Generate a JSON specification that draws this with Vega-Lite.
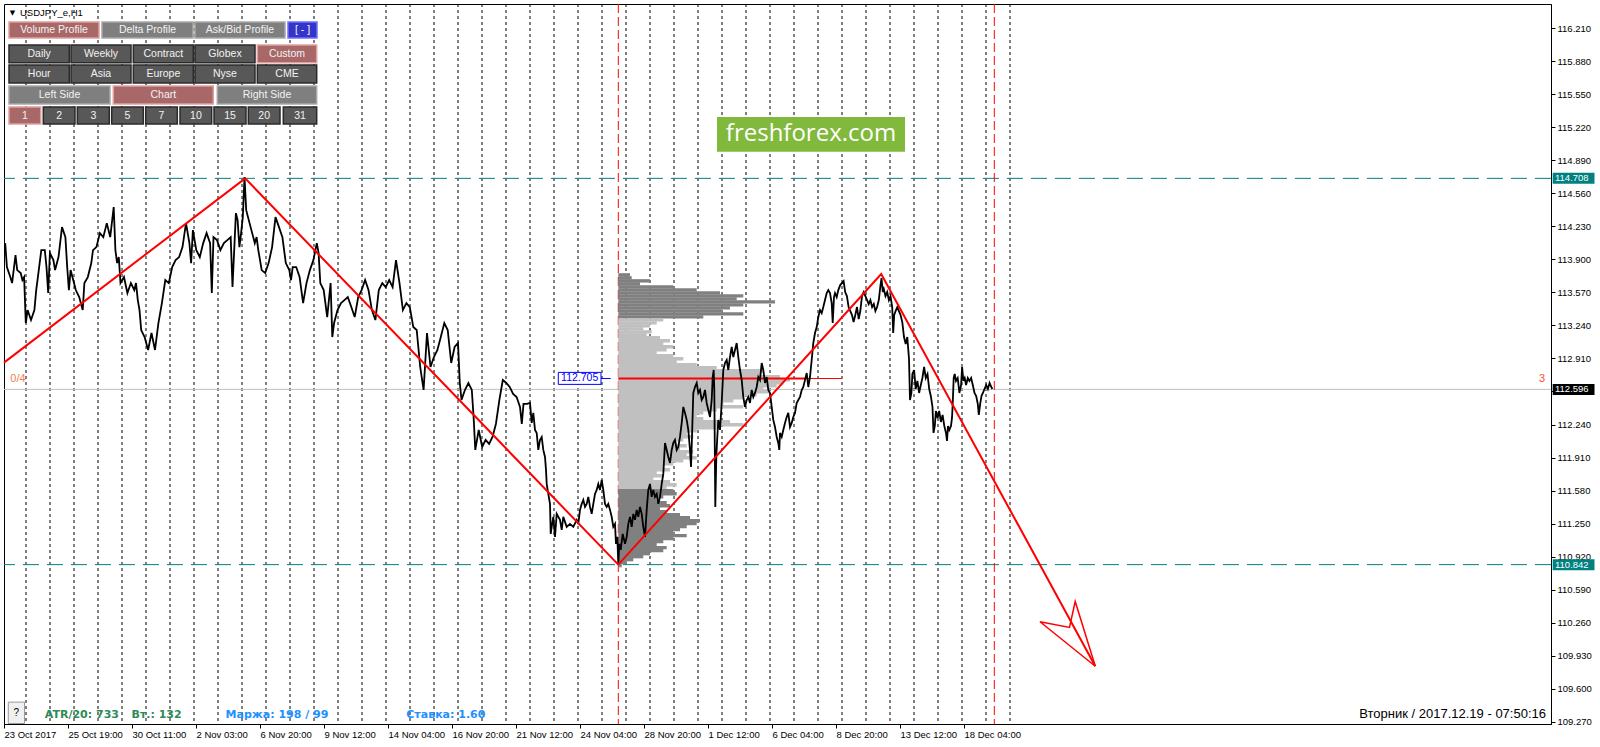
{
"$schema":"https://vega.github.io/schema/vega-lite/v6.json",
"width":1547,"height":720,
"autosize":{"type":"none"},
"padding":{"left":4,"top":4,"right":49,"bottom":23},
"background":"#ffffff",
"config":{"view":{"stroke":"#000000","strokeWidth":1},"axis":{"grid":false,"labelFont":"Liberation Sans"},"text":{"font":"Liberation Sans"}},
"datasets":{
"seps":[{"t":22},{"t":46},{"t":70},{"t":94},{"t":118},{"t":142},{"t":166},{"t":190},{"t":214},{"t":238},{"t":262},{"t":286},{"t":310},{"t":334},{"t":358},{"t":382},{"t":406},{"t":430},{"t":454},{"t":478},{"t":502},{"t":526},{"t":550},{"t":574},{"t":598},{"t":622},{"t":646},{"t":670},{"t":694},{"t":718},{"t":742},{"t":766},{"t":790},{"t":814},{"t":838},{"t":862},{"t":886},{"t":910},{"t":934},{"t":958},{"t":982},{"t":1006}],
"price":[{"t":1.2,"p":114.06},{"t":2.9,"p":113.82},{"t":6.3,"p":113.72},{"t":8.1,"p":113.66},{"t":11.5,"p":113.94},{"t":13.2,"p":113.79},{"t":16.7,"p":113.76},{"t":18.4,"p":113.69},{"t":20.1,"p":113.72},{"t":21.8,"p":113.26},{"t":23.6,"p":113.39},{"t":27.0,"p":113.29},{"t":30.4,"p":113.39},{"t":32.2,"p":113.59},{"t":33.9,"p":113.72},{"t":37.3,"p":113.99},{"t":40.8,"p":113.99},{"t":42.5,"p":113.82},{"t":44.2,"p":113.56},{"t":45.9,"p":113.96},{"t":49.4,"p":113.89},{"t":51.1,"p":113.79},{"t":54.5,"p":113.92},{"t":58.0,"p":114.22},{"t":61.4,"p":114.12},{"t":63.2,"p":113.82},{"t":64.9,"p":113.59},{"t":66.6,"p":113.79},{"t":70.0,"p":113.66},{"t":71.8,"p":113.59},{"t":75.2,"p":113.52},{"t":78.7,"p":113.39},{"t":80.4,"p":113.66},{"t":83.8,"p":113.72},{"t":87.3,"p":113.86},{"t":89.0,"p":113.99},{"t":92.4,"p":114.02},{"t":95.9,"p":114.16},{"t":99.3,"p":114.12},{"t":102.8,"p":114.26},{"t":106.2,"p":114.12},{"t":109.7,"p":114.42},{"t":111.4,"p":113.99},{"t":113.1,"p":113.86},{"t":114.8,"p":113.92},{"t":116.5,"p":113.66},{"t":120.0,"p":113.72},{"t":123.4,"p":113.56},{"t":126.9,"p":113.66},{"t":130.3,"p":113.59},{"t":132.0,"p":113.66},{"t":133.8,"p":113.49},{"t":135.5,"p":113.39},{"t":137.2,"p":113.19},{"t":140.6,"p":113.12},{"t":144.1,"p":112.99},{"t":147.5,"p":113.16},{"t":151.0,"p":112.99},{"t":154.4,"p":113.26},{"t":157.9,"p":113.46},{"t":161.3,"p":113.69},{"t":164.8,"p":113.66},{"t":168.2,"p":113.82},{"t":171.6,"p":113.89},{"t":175.1,"p":113.92},{"t":178.5,"p":114.02},{"t":182.0,"p":114.26},{"t":185.4,"p":114.06},{"t":187.1,"p":113.86},{"t":188.9,"p":114.19},{"t":192.3,"p":113.99},{"t":195.8,"p":113.92},{"t":199.2,"p":114.06},{"t":202.6,"p":114.16},{"t":206.1,"p":114.06},{"t":207.8,"p":113.56},{"t":209.5,"p":114.12},{"t":213.0,"p":114.09},{"t":216.4,"p":113.99},{"t":219.9,"p":114.06},{"t":223.3,"p":114.09},{"t":226.7,"p":114.12},{"t":228.5,"p":113.62},{"t":230.2,"p":113.99},{"t":231.9,"p":114.36},{"t":233.6,"p":114.29},{"t":235.4,"p":114.02},{"t":237.1,"p":114.16},{"t":238.8,"p":114.32},{"t":240.5,"p":114.72},{"t":242.2,"p":114.39},{"t":244.0,"p":114.32},{"t":247.4,"p":114.19},{"t":250.8,"p":114.06},{"t":252.6,"p":114.12},{"t":254.3,"p":113.99},{"t":257.7,"p":113.79},{"t":261.2,"p":113.76},{"t":264.6,"p":113.86},{"t":268.1,"p":114.02},{"t":271.5,"p":114.32},{"t":275.0,"p":114.22},{"t":278.4,"p":114.12},{"t":281.8,"p":113.86},{"t":285.3,"p":113.79},{"t":287.0,"p":113.69},{"t":288.7,"p":113.82},{"t":292.2,"p":113.82},{"t":295.6,"p":113.72},{"t":299.1,"p":113.46},{"t":302.5,"p":113.66},{"t":305.9,"p":113.79},{"t":309.4,"p":113.89},{"t":312.8,"p":114.06},{"t":314.6,"p":113.96},{"t":316.3,"p":113.66},{"t":319.7,"p":113.59},{"t":323.2,"p":113.32},{"t":326.6,"p":113.66},{"t":328.3,"p":113.12},{"t":330.1,"p":113.26},{"t":333.5,"p":113.39},{"t":337.0,"p":113.46},{"t":340.4,"p":113.49},{"t":343.8,"p":113.52},{"t":347.3,"p":113.42},{"t":350.7,"p":113.32},{"t":354.2,"p":113.52},{"t":357.6,"p":113.59},{"t":361.1,"p":113.69},{"t":364.5,"p":113.59},{"t":367.9,"p":113.39},{"t":371.4,"p":113.29},{"t":374.8,"p":113.59},{"t":378.3,"p":113.66},{"t":381.7,"p":113.62},{"t":385.2,"p":113.69},{"t":388.6,"p":113.62},{"t":392.0,"p":113.89},{"t":395.5,"p":113.66},{"t":398.9,"p":113.39},{"t":402.4,"p":113.46},{"t":405.8,"p":113.42},{"t":409.3,"p":113.22},{"t":412.7,"p":113.19},{"t":416.2,"p":112.82},{"t":419.6,"p":112.59},{"t":423.0,"p":113.16},{"t":426.5,"p":112.82},{"t":429.9,"p":112.92},{"t":433.4,"p":112.99},{"t":436.8,"p":113.12},{"t":440.3,"p":113.26},{"t":443.7,"p":113.19},{"t":447.2,"p":112.86},{"t":450.6,"p":113.02},{"t":454.0,"p":113.06},{"t":455.8,"p":112.66},{"t":457.5,"p":112.49},{"t":460.9,"p":112.59},{"t":464.4,"p":112.66},{"t":467.8,"p":112.59},{"t":469.6,"p":112.32},{"t":471.3,"p":111.99},{"t":474.7,"p":112.19},{"t":478.2,"p":112.02},{"t":481.6,"p":112.09},{"t":485.1,"p":112.05},{"t":488.5,"p":112.12},{"t":491.9,"p":112.25},{"t":495.4,"p":112.49},{"t":498.8,"p":112.69},{"t":502.3,"p":112.66},{"t":505.7,"p":112.62},{"t":509.1,"p":112.55},{"t":512.6,"p":112.52},{"t":516.0,"p":112.42},{"t":517.8,"p":112.25},{"t":519.5,"p":112.45},{"t":522.9,"p":112.45},
{"t":526,"p":112.46},{"t":527.7,"p":112.26},{"t":529.3,"p":112.36},{"t":531,"p":112.19},{"t":532.7,"p":112.16},{"t":534.3,"p":111.99},{"t":536,"p":112.09},{"t":537.7,"p":112.12},{"t":539.3,"p":111.99},{"t":541,"p":111.92},{"t":542,"p":111.79},{"t":542.7,"p":111.65},{"t":544.3,"p":111.55},{"t":546,"p":111.45},{"t":546.7,"p":111.15},{"t":547.7,"p":111.22},{"t":549.3,"p":111.32},{"t":551,"p":111.12},{"t":552.7,"p":111.35},{"t":556,"p":111.29},{"t":557.7,"p":111.19},{"t":559.3,"p":111.32},{"t":562.7,"p":111.22},{"t":566,"p":111.25},{"t":569.3,"p":111.22},{"t":572.7,"p":111.29},{"t":574.3,"p":111.25},{"t":576,"p":111.39},{"t":577.7,"p":111.45},{"t":579.3,"p":111.49},{"t":581,"p":111.42},{"t":582.7,"p":111.45},{"t":584.3,"p":111.52},{"t":586,"p":111.42},{"t":587.7,"p":111.35},{"t":589.3,"p":111.45},{"t":591,"p":111.55},{"t":592.7,"p":111.59},{"t":594.3,"p":111.65},{"t":596,"p":111.59},{"t":597.7,"p":111.69},{"t":599.3,"p":111.59},{"t":601,"p":111.45},{"t":602.7,"p":111.42},{"t":604.3,"p":111.45},{"t":606,"p":111.39},{"t":607.7,"p":111.32},{"t":609.3,"p":111.22},{"t":611,"p":111.25},{"t":612,"p":111.05},{"t":613.3,"p":111.12},{"t":614.3,"p":110.85},{"t":615.3,"p":111.05},{"t":616.7,"p":110.99},{"t":618.7,"p":111.15},{"t":621,"p":111.05},{"t":622.7,"p":111.12},{"t":624.3,"p":111.25},{"t":626,"p":111.32},{"t":627.7,"p":111.22},{"t":629.3,"p":111.35},{"t":631,"p":111.29},{"t":632.7,"p":111.39},{"t":634.3,"p":111.32},{"t":636,"p":111.42},{"t":637.7,"p":111.35},{"t":639.3,"p":111.22},{"t":641,"p":111.12},{"t":642.7,"p":111.39},{"t":644.3,"p":111.59},{"t":646,"p":111.65},{"t":647.7,"p":111.52},{"t":649.3,"p":111.59},{"t":651,"p":111.52},{"t":652.7,"p":111.55},{"t":654.3,"p":111.45},{"t":656,"p":111.52},{"t":657.7,"p":111.65},{"t":659.3,"p":111.75},{"t":661,"p":112.06},{"t":662.7,"p":111.99},{"t":664.3,"p":111.92},{"t":666,"p":111.86},{"t":667.7,"p":111.99},{"t":669.3,"p":112.06},{"t":671,"p":112.09},{"t":672.7,"p":111.99},{"t":674.3,"p":112.02},{"t":676,"p":112.12},{"t":677.7,"p":112.26},{"t":679.3,"p":112.42},{"t":681,"p":112.36},{"t":682.7,"p":112.29},{"t":684.3,"p":112.19},{"t":686,"p":111.99},{"t":687,"p":111.82},{"t":688,"p":112.12},{"t":689.3,"p":112.56},{"t":691,"p":112.62},{"t":692.7,"p":112.66},{"t":694.3,"p":112.56},{"t":696,"p":112.59},{"t":697.7,"p":112.49},{"t":699.3,"p":112.52},{"t":701,"p":112.59},{"t":702.7,"p":112.46},{"t":704.3,"p":112.39},{"t":706,"p":112.32},{"t":707.7,"p":112.49},{"t":708.7,"p":112.72},{"t":709.7,"p":112.79},{"t":710.3,"p":112.59},{"t":711.3,"p":111.42},{"t":712.3,"p":111.92},{"t":713.3,"p":112.12},{"t":714.3,"p":112.29},{"t":716,"p":112.19},{"t":717.7,"p":112.46},{"t":719.3,"p":112.79},{"t":721,"p":112.86},{"t":722.7,"p":112.89},{"t":724.3,"p":112.79},{"t":726,"p":112.92},{"t":727.7,"p":113.02},{"t":729.3,"p":112.92},{"t":731,"p":112.99},{"t":732.7,"p":113.06},{"t":734.3,"p":112.92},{"t":736,"p":112.79},{"t":737.7,"p":112.69},{"t":739.3,"p":112.52},{"t":741,"p":112.42},{"t":742.7,"p":112.49},{"t":744.3,"p":112.52},{"t":746,"p":112.46},{"t":747.7,"p":112.59},{"t":749.3,"p":112.52},{"t":751,"p":112.56},{"t":752.7,"p":112.62},{"t":754.3,"p":112.72},{"t":756,"p":112.69},{"t":757.7,"p":112.86},{"t":759.3,"p":112.79},{"t":761,"p":112.66},{"t":762.7,"p":112.72},{"t":764.3,"p":112.59},{"t":766,"p":112.56},{"t":767.7,"p":112.42},{"t":769.3,"p":112.29},{"t":771,"p":112.22},{"t":772.7,"p":112.12},{"t":774.3,"p":112.06},{"t":775.3,"p":111.99},{"t":776,"p":112.16},{"t":777.7,"p":112.12},{"t":779.3,"p":112.19},{"t":781,"p":112.26},{"t":782.7,"p":112.32},{"t":784.3,"p":112.36},{"t":786,"p":112.22},{"t":787.7,"p":112.26},{"t":789.3,"p":112.32},{"t":791,"p":112.36},{"t":792.7,"p":112.46},{"t":794.3,"p":112.49},{"t":796,"p":112.52},{"t":797.7,"p":112.59},{"t":799.3,"p":112.62},{"t":801,"p":112.69},{"t":802.7,"p":112.76},{"t":804.3,"p":112.62},{"t":806,"p":112.72},{"t":807.7,"p":112.89},{"t":809.3,"p":113.06},{"t":811,"p":113.16},{"t":812.7,"p":113.22},{"t":814.3,"p":113.32},{"t":816,"p":113.39},{"t":817.7,"p":113.36},{"t":819.3,"p":113.42},{"t":821,"p":113.49},{"t":822.7,"p":113.56},{"t":824.3,"p":113.59},{"t":826,"p":113.56},{"t":827.7,"p":113.46},{"t":828.7,"p":113.26},{"t":830,"p":113.52},{"t":831,"p":113.56},{"t":832.7,"p":113.52},{"t":834.3,"p":113.59},
{"t":836.2,"p":113.64},{"t":839.6,"p":113.68},{"t":841.2,"p":113.57},{"t":842.9,"p":113.53},{"t":844.6,"p":113.42},{"t":846.3,"p":113.38},{"t":848,"p":113.34},{"t":849.6,"p":113.27},{"t":851.3,"p":113.34},{"t":853,"p":113.42},{"t":854.7,"p":113.3},{"t":856.3,"p":113.38},{"t":858,"p":113.53},{"t":859.7,"p":113.57},{"t":861.4,"p":113.53},{"t":863.1,"p":113.49},{"t":864.7,"p":113.45},{"t":866.4,"p":113.49},{"t":868.1,"p":113.42},{"t":869.8,"p":113.45},{"t":871.4,"p":113.38},{"t":873.1,"p":113.42},{"t":874.8,"p":113.49},{"t":876.5,"p":113.64},{"t":877.5,"p":113.71},{"t":878.8,"p":113.57},{"t":879.8,"p":113.6},{"t":881.5,"p":113.53},{"t":883.2,"p":113.57},{"t":884.9,"p":113.49},{"t":886.5,"p":113.53},{"t":888.2,"p":113.42},{"t":889.2,"p":113.16},{"t":890.2,"p":113.34},{"t":891.6,"p":113.38},{"t":893.3,"p":113.42},{"t":894.9,"p":113.38},{"t":896.6,"p":113.34},{"t":898.3,"p":113.27},{"t":900,"p":113.12},{"t":901.7,"p":113.05},{"t":903.3,"p":113.12},{"t":905,"p":112.9},{"t":906,"p":112.49},{"t":907.4,"p":112.56},{"t":908.4,"p":112.75},{"t":910.1,"p":112.79},{"t":911.7,"p":112.6},{"t":913.4,"p":112.68},{"t":915.1,"p":112.56},{"t":916.8,"p":112.64},{"t":918.4,"p":112.71},{"t":920.1,"p":112.82},{"t":921.8,"p":112.71},{"t":923.5,"p":112.75},{"t":925.2,"p":112.6},{"t":926.8,"p":112.53},{"t":928.5,"p":112.42},{"t":929.5,"p":112.16},{"t":930.8,"p":112.23},{"t":931.9,"p":112.38},{"t":933.6,"p":112.31},{"t":935.2,"p":112.38},{"t":936.9,"p":112.27},{"t":938.6,"p":112.34},{"t":940.3,"p":112.23},{"t":942,"p":112.16},{"t":943,"p":112.08},{"t":944,"p":112.23},{"t":945.3,"p":112.19},{"t":947,"p":112.23},{"t":948,"p":112.31},{"t":948.7,"p":112.45},{"t":949.7,"p":112.71},{"t":950.7,"p":112.75},{"t":952,"p":112.68},{"t":953.7,"p":112.71},{"t":955.4,"p":112.56},{"t":957.1,"p":112.64},{"t":958.1,"p":112.82},{"t":959.4,"p":112.68},{"t":960.7,"p":112.71},{"t":962.1,"p":112.64},{"t":963.8,"p":112.71},{"t":965.4,"p":112.68},{"t":967.1,"p":112.71},{"t":968.8,"p":112.64},{"t":970.5,"p":112.56},{"t":972.2,"p":112.53},{"t":973.8,"p":112.45},{"t":974.8,"p":112.34},{"t":976.2,"p":112.45},{"t":977.5,"p":112.53},{"t":978.9,"p":112.56},{"t":980.5,"p":112.6},{"t":982.2,"p":112.64},{"t":983.9,"p":112.6},{"t":985.6,"p":112.66},{"t":987.3,"p":112.62},{"t":988.3,"p":112.6}],
"prof":[{"p":113.742,"e":626,"z":"o"},{"p":113.712,"e":627.7,"z":"o"},{"p":113.682,"e":646,"z":"o"},{"p":113.652,"e":636,"z":"o"},{"p":113.622,"e":669.3,"z":"o"},{"p":113.592,"e":692.7,"z":"o"},{"p":113.562,"e":716,"z":"o"},{"p":113.532,"e":739.3,"z":"o"},{"p":113.502,"e":732.7,"z":"o"},{"p":113.472,"e":771,"z":"o"},{"p":113.442,"e":739.3,"z":"o"},{"p":113.412,"e":726,"z":"o"},{"p":113.382,"e":717.7,"z":"o"},{"p":113.352,"e":739.3,"z":"o"},{"p":113.322,"e":699.3,"z":"o"},
{"p":113.292,"e":659.3,"z":"v"},{"p":113.262,"e":652.7,"z":"v"},{"p":113.232,"e":646,"z":"v"},{"p":113.202,"e":639.3,"z":"v"},{"p":113.172,"e":647.7,"z":"v"},{"p":113.142,"e":642.7,"z":"v"},{"p":113.112,"e":656,"z":"v"},{"p":113.082,"e":666,"z":"v"},{"p":113.052,"e":659.3,"z":"v"},{"p":113.022,"e":669.3,"z":"v"},{"p":112.992,"e":662.7,"z":"v"},{"p":112.962,"e":652.7,"z":"v"},{"p":112.932,"e":669.3,"z":"v"},{"p":112.902,"e":679.3,"z":"v"},{"p":112.872,"e":672.7,"z":"v"},{"p":112.842,"e":692.7,"z":"v"},{"p":112.812,"e":712.7,"z":"v"},{"p":112.782,"e":759.3,"z":"v"},{"p":112.752,"e":756,"z":"v"},{"p":112.722,"e":776,"z":"v"},{"p":112.692,"e":786,"z":"v"},{"p":112.662,"e":779.3,"z":"v"},{"p":112.632,"e":772.7,"z":"v"},{"p":112.602,"e":759.3,"z":"v"},{"p":112.572,"e":766,"z":"v"},{"p":112.542,"e":752.7,"z":"v"},{"p":112.512,"e":739.3,"z":"v"},{"p":112.482,"e":729.3,"z":"v"},{"p":112.452,"e":719.3,"z":"v"},{"p":112.422,"e":739.3,"z":"v"},{"p":112.392,"e":712.7,"z":"v"},{"p":112.362,"e":699.3,"z":"v"},{"p":112.332,"e":692.7,"z":"v"},{"p":112.302,"e":699.3,"z":"v"},{"p":112.272,"e":726,"z":"v"},{"p":112.242,"e":739.3,"z":"v"},{"p":112.212,"e":712.7,"z":"v"},{"p":112.182,"e":692.7,"z":"v"},{"p":112.152,"e":682.7,"z":"v"},{"p":112.122,"e":689.3,"z":"v"},{"p":112.092,"e":679.3,"z":"v"},{"p":112.062,"e":672.7,"z":"v"},{"p":112.032,"e":682.7,"z":"v"},{"p":112.002,"e":676,"z":"v"},{"p":111.972,"e":689.3,"z":"v"},{"p":111.942,"e":682.7,"z":"v"},{"p":111.912,"e":692.7,"z":"v"},{"p":111.882,"e":679.3,"z":"v"},{"p":111.852,"e":669.3,"z":"v"},{"p":111.822,"e":659.3,"z":"v"},{"p":111.792,"e":666,"z":"v"},{"p":111.762,"e":652.7,"z":"v"},{"p":111.732,"e":659.3,"z":"v"},{"p":111.702,"e":649.3,"z":"v"},{"p":111.672,"e":666,"z":"v"},{"p":111.642,"e":672.7,"z":"v"},{"p":111.612,"e":662.7,"z":"v"},
{"p":111.582,"e":669.3,"z":"o"},{"p":111.552,"e":672.7,"z":"o"},{"p":111.522,"e":659.3,"z":"o"},{"p":111.492,"e":652.7,"z":"o"},{"p":111.462,"e":662.7,"z":"o"},{"p":111.432,"e":666,"z":"o"},{"p":111.402,"e":656,"z":"o"},{"p":111.372,"e":662.7,"z":"o"},{"p":111.342,"e":676,"z":"o"},{"p":111.312,"e":686,"z":"o"},{"p":111.282,"e":696,"z":"o"},{"p":111.252,"e":692.7,"z":"o"},{"p":111.222,"e":682.7,"z":"o"},{"p":111.192,"e":676,"z":"o"},{"p":111.162,"e":669.3,"z":"o"},{"p":111.132,"e":682.7,"z":"o"},{"p":111.102,"e":669.3,"z":"o"},{"p":111.072,"e":659.3,"z":"o"},{"p":111.042,"e":652.7,"z":"o"},{"p":111.012,"e":662.7,"z":"o"},{"p":110.982,"e":659.3,"z":"o"},{"p":110.952,"e":646,"z":"o"},{"p":110.922,"e":639.3,"z":"o"},{"p":110.892,"e":629.3,"z":"o"},{"p":110.862,"e":622.7,"z":"o"},{"p":110.832,"e":617.7,"z":"o"}],
"buttons":[
{"lab":"Volume Profile","t0":5,"t1":95,"tc":50,"y0":116.273,"y1":116.113,"pc":116.193,"s":"on"},
{"lab":"Delta Profile","t0":98,"t1":189,"tc":143.5,"y0":116.273,"y1":116.113,"pc":116.193,"s":"lt"},
{"lab":"Ask/Bid Profile","t0":191,"t1":281,"tc":236,"y0":116.273,"y1":116.113,"pc":116.193,"s":"lt"},
{"lab":"[ - ]","t0":284,"t1":313,"tc":298.5,"y0":116.273,"y1":116.113,"pc":116.193,"s":"bl"},
{"lab":"Daily","t0":5,"t1":65.3,"tc":35.2,"y0":116.043,"y1":115.865,"pc":115.954,"s":"dk"},
{"lab":"Weekly","t0":67,"t1":127,"tc":97,"y0":116.043,"y1":115.865,"pc":115.954,"s":"dk"},
{"lab":"Contract","t0":129.3,"t1":189.3,"tc":159.3,"y0":116.043,"y1":115.865,"pc":115.954,"s":"dk"},
{"lab":"Globex","t0":191,"t1":251,"tc":221,"y0":116.043,"y1":115.865,"pc":115.954,"s":"dk"},
{"lab":"Custom","t0":253.3,"t1":312.7,"tc":283,"y0":116.043,"y1":115.865,"pc":115.954,"s":"on"},
{"lab":"Hour","t0":5,"t1":65.3,"tc":35.2,"y0":115.842,"y1":115.662,"pc":115.752,"s":"dk"},
{"lab":"Asia","t0":67,"t1":127,"tc":97,"y0":115.842,"y1":115.662,"pc":115.752,"s":"dk"},
{"lab":"Europe","t0":129.3,"t1":189.3,"tc":159.3,"y0":115.842,"y1":115.662,"pc":115.752,"s":"dk"},
{"lab":"Nyse","t0":191,"t1":251,"tc":221,"y0":115.842,"y1":115.662,"pc":115.752,"s":"dk"},
{"lab":"CME","t0":253.3,"t1":312.7,"tc":283,"y0":115.842,"y1":115.662,"pc":115.752,"s":"dk"},
{"lab":"Left Side","t0":5,"t1":106,"tc":55.5,"y0":115.632,"y1":115.452,"pc":115.542,"s":"lt"},
{"lab":"Chart","t0":109.3,"t1":209.3,"tc":159.3,"y0":115.632,"y1":115.452,"pc":115.542,"s":"on"},
{"lab":"Right Side","t0":213.3,"t1":312.7,"tc":263,"y0":115.632,"y1":115.452,"pc":115.542,"s":"lt"},
{"lab":"1","t0":5,"t1":36.7,"tc":20.9,"y0":115.422,"y1":115.252,"pc":115.337,"s":"on"},
{"lab":"2","t0":39.3,"t1":71,"tc":55.2,"y0":115.422,"y1":115.252,"pc":115.337,"s":"dk"},
{"lab":"3","t0":73.3,"t1":105.3,"tc":89.3,"y0":115.422,"y1":115.252,"pc":115.337,"s":"dk"},
{"lab":"5","t0":107.7,"t1":139.3,"tc":123.5,"y0":115.422,"y1":115.252,"pc":115.337,"s":"dk"},
{"lab":"7","t0":141.7,"t1":173.3,"tc":157.5,"y0":115.422,"y1":115.252,"pc":115.337,"s":"dk"},
{"lab":"10","t0":176,"t1":207.7,"tc":191.9,"y0":115.422,"y1":115.252,"pc":115.337,"s":"dk"},
{"lab":"15","t0":210,"t1":242,"tc":226,"y0":115.422,"y1":115.252,"pc":115.337,"s":"dk"},
{"lab":"20","t0":244.3,"t1":276,"tc":260.2,"y0":115.422,"y1":115.252,"pc":115.337,"s":"dk"},
{"lab":"31","t0":279.3,"t1":312.7,"tc":296,"y0":115.422,"y1":115.252,"pc":115.337,"s":"dk"}]
},
"resolve":{"scale":{"color":"independent","fill":"independent","stroke":"independent"},"axis":{"x":"independent","y":"independent"}},
"layer":[
{"data":{"name":"seps"},"mark":{"type":"rule","color":"#000000","strokeWidth":1,"strokeDash":[3,3]},
 "encoding":{"x":{"field":"t","type":"quantitative","scale":{"domain":[0,1547],"nice":false,"zero":false},
   "axis":{"title":null,"values":[0,64,128,192,256,320,384,448,512,576,640,704,768,832,896,960],
    "labelExpr":"['23 Oct 2017','25 Oct 19:00','30 Oct 11:00','2 Nov 03:00','6 Nov 20:00','9 Nov 12:00','14 Nov 04:00','16 Nov 20:00','21 Nov 12:00','24 Nov 04:00','28 Nov 20:00','1 Dec 12:00','6 Dec 04:00','8 Dec 20:00','13 Dec 12:00','18 Dec 04:00'][round(datum.value/64)]",
    "tickSize":4,"tickColor":"#000000","domainColor":"#000000","labelColor":"#000000","labelFontSize":9.5,"labelAlign":"left","labelBaseline":"top","labelPadding":1,"labelFlush":false,"labelOverlap":false,"labelBound":false,"grid":false}}}},
{"data":{"values":[{"p":114.708},{"p":110.842}]},"mark":{"type":"rule","color":"#008080","strokeWidth":1,"strokeDash":[16,8]},
 "encoding":{"y":{"field":"p","type":"quantitative","scale":{"domain":[109.247,116.453],"nice":false,"zero":false},
   "axis":{"title":null,"orient":"right","values":[109.27,109.6005,109.931,110.2614,110.5919,110.9224,111.2529,111.5833,111.9138,112.2443,112.5748,112.9052,113.2357,113.5662,113.8967,114.2271,114.5576,114.8881,115.2186,115.549,115.8795,116.21],
    "labelExpr":"format(datum.value,'.2f')+'0'","tickSize":4,"tickColor":"#000000","domainColor":"#000000","labelColor":"#000000","labelFontSize":9.5,"labelPadding":2,"labelFlush":false,"labelOverlap":false,"labelBaseline":"middle","grid":false}}}},
{"data":{"values":[{"p":112.596}]},"mark":{"type":"rule","color":"#c0c0c0","strokeWidth":1},
 "encoding":{"y":{"field":"p","type":"quantitative","scale":{"domain":[109.247,116.453],"nice":false,"zero":false},"axis":null}}},
{"data":{"values":[{"t":614.3},{"t":990.3}]},"mark":{"type":"rule","color":"#ff0000","strokeWidth":1,"strokeDash":[9,4]},
 "encoding":{"x":{"field":"t","type":"quantitative","scale":{"domain":[0,1547],"nice":false,"zero":false},"axis":null}}},
{"data":{"name":"prof"},"mark":{"type":"rule","strokeWidth":3.4},
 "encoding":{"x":{"field":"e","type":"quantitative","scale":{"domain":[0,1547],"nice":false,"zero":false},"axis":null},
  "x2":{"datum":614.3},
  "y":{"field":"p","type":"quantitative","scale":{"domain":[109.247,116.453],"nice":false,"zero":false},"axis":null},
  "color":{"field":"z","type":"nominal","scale":{"domain":["o","v"],"range":["#808080","#c0c0c0"]},"legend":null}}},
{"data":{"values":[{"t":614.3,"e":801,"p":112.705}]},"mark":{"type":"rule","color":"#ff0000","strokeWidth":2},
 "encoding":{"x":{"field":"t","type":"quantitative","scale":{"domain":[0,1547],"nice":false,"zero":false},"axis":null},"x2":{"field":"e"},
  "y":{"field":"p","type":"quantitative","scale":{"domain":[109.247,116.453],"nice":false,"zero":false},"axis":null}}},
{"data":{"values":[{"t":801,"e":837.5,"p":112.705}]},"mark":{"type":"rule","color":"#ff0000","strokeWidth":1},
 "encoding":{"x":{"field":"t","type":"quantitative","scale":{"domain":[0,1547],"nice":false,"zero":false},"axis":null},"x2":{"field":"e"},
  "y":{"field":"p","type":"quantitative","scale":{"domain":[109.247,116.453],"nice":false,"zero":false},"axis":null}}},
{"data":{"name":"price"},"mark":{"type":"line","color":"#000000","strokeWidth":1.8},
 "encoding":{"x":{"field":"t","type":"quantitative","scale":{"domain":[0,1547],"nice":false,"zero":false},"axis":null},
  "y":{"field":"p","type":"quantitative","scale":{"domain":[109.247,116.453],"nice":false,"zero":false},"axis":null}}},
{"data":{"values":[{"o":0,"t":0,"p":112.864},{"o":1,"t":241.2,"p":114.708},{"o":2,"t":614.3,"p":110.842},{"o":3,"t":877.2,"p":113.751},{"o":4,"t":1091.3,"p":109.825}]},
 "mark":{"type":"line","color":"#ff0000","strokeWidth":2},
 "encoding":{"x":{"field":"t","type":"quantitative","scale":{"domain":[0,1547],"nice":false,"zero":false},"axis":null},
  "y":{"field":"p","type":"quantitative","scale":{"domain":[109.247,116.453],"nice":false,"zero":false},"axis":null},
  "order":{"field":"o","type":"quantitative"}}},
{"data":{"values":[{"o":0,"t":1091.3,"p":109.825},{"o":1,"t":1036.0,"p":110.27},{"o":2,"t":1065.5,"p":110.214},{"o":3,"t":1071.2,"p":110.473},{"o":4,"t":1091.3,"p":109.825}]},
 "mark":{"type":"line","color":"#ff0000","strokeWidth":1.5},
 "encoding":{"x":{"field":"t","type":"quantitative","scale":{"domain":[0,1547],"nice":false,"zero":false},"axis":null},
  "y":{"field":"p","type":"quantitative","scale":{"domain":[109.247,116.453],"nice":false,"zero":false},"axis":null},
  "order":{"field":"o","type":"quantitative"}}},
{"data":{"values":[{"t":597,"e":606.7,"p":112.705}]},"mark":{"type":"rule","color":"#0000ff","strokeWidth":1},
 "encoding":{"x":{"field":"t","type":"quantitative","scale":{"domain":[0,1547],"nice":false,"zero":false},"axis":null},"x2":{"field":"e"},
  "y":{"field":"p","type":"quantitative","scale":{"domain":[109.247,116.453],"nice":false,"zero":false},"axis":null}}},
{"data":{"values":[{"t0":554.3,"t1":597,"y0":112.766,"y1":112.646}]},"mark":{"type":"rect","fill":"#ffffff","stroke":"#0000ff","strokeWidth":1},
 "encoding":{"x":{"field":"t0","type":"quantitative","scale":{"domain":[0,1547],"nice":false,"zero":false},"axis":null},"x2":{"field":"t1"},
  "y":{"field":"y0","type":"quantitative","scale":{"domain":[109.247,116.453],"nice":false,"zero":false},"axis":null},"y2":{"field":"y1"}}},
{"data":{"values":[{"t":575.7,"p":112.705,"txt":"112.705"}]},"mark":{"type":"text","color":"#0000ff","fontSize":10.5,"align":"center","baseline":"middle"},
 "encoding":{"x":{"field":"t","type":"quantitative","scale":{"domain":[0,1547],"nice":false,"zero":false},"axis":null},
  "y":{"field":"p","type":"quantitative","scale":{"domain":[109.247,116.453],"nice":false,"zero":false},"axis":null},"text":{"field":"txt"}}},
{"data":{"values":[{"t0":713,"t1":901,"y0":115.322,"y1":114.975}]},"mark":{"type":"rect","fill":"#80b93b"},
 "encoding":{"x":{"field":"t0","type":"quantitative","scale":{"domain":[0,1547],"nice":false,"zero":false},"axis":null},"x2":{"field":"t1"},
  "y":{"field":"y0","type":"quantitative","scale":{"domain":[109.247,116.453],"nice":false,"zero":false},"axis":null},"y2":{"field":"y1"}}},
{"data":{"values":[{"t":807,"p":115.149,"txt":"freshforex.com"}]},"mark":{"type":"text","color":"#ffffff","font":"Open Sans","fontSize":24,"align":"center","baseline":"middle"},
 "encoding":{"x":{"field":"t","type":"quantitative","scale":{"domain":[0,1547],"nice":false,"zero":false},"axis":null},
  "y":{"field":"p","type":"quantitative","scale":{"domain":[109.247,116.453],"nice":false,"zero":false},"axis":null},"text":{"field":"txt"}}},
{"data":{"name":"buttons"},"mark":{"type":"rect","strokeWidth":1.5},
 "encoding":{"x":{"field":"t0","type":"quantitative","scale":{"domain":[0,1547],"nice":false,"zero":false},"axis":null},"x2":{"field":"t1"},
  "y":{"field":"y0","type":"quantitative","scale":{"domain":[109.247,116.453],"nice":false,"zero":false},"axis":null},"y2":{"field":"y1"},
  "fill":{"field":"s","type":"nominal","scale":{"domain":["on","lt","dk","bl"],"range":["#a86868","#7f7f7f","#585858","#3434c8"]},"legend":null},
  "stroke":{"field":"s","type":"nominal","scale":{"domain":["on","lt","dk","bl"],"range":["#e0a0a0","#a8a8a8","#2a2a2a","#7070ff"]},"legend":null}}},
{"data":{"name":"buttons"},"mark":{"type":"text","color":"#f2f2f2","fontSize":10.5,"align":"center","baseline":"middle"},
 "encoding":{"x":{"field":"tc","type":"quantitative","scale":{"domain":[0,1547],"nice":false,"zero":false},"axis":null},
  "y":{"field":"pc","type":"quantitative","scale":{"domain":[109.247,116.453],"nice":false,"zero":false},"axis":null},"text":{"field":"lab"}}},
{"data":{"values":[{"t":8.5,"p":116.36,"txt":"▼"}]},"mark":{"type":"text","color":"#000000","font":"DejaVu Sans","fontSize":7,"align":"center","baseline":"middle"},
 "encoding":{"x":{"field":"t","type":"quantitative","scale":{"domain":[0,1547],"nice":false,"zero":false},"axis":null},
  "y":{"field":"p","type":"quantitative","scale":{"domain":[109.247,116.453],"nice":false,"zero":false},"axis":null},"text":{"field":"txt"}}},
{"data":{"values":[{"t":16,"p":116.36,"txt":"USDJPY_e,H1"}]},"mark":{"type":"text","color":"#000000","fontSize":9.5,"align":"left","baseline":"middle"},
 "encoding":{"x":{"field":"t","type":"quantitative","scale":{"domain":[0,1547],"nice":false,"zero":false},"axis":null},
  "y":{"field":"p","type":"quantitative","scale":{"domain":[109.247,116.453],"nice":false,"zero":false},"axis":null},"text":{"field":"txt"}}},
{"data":{"values":[{"t":40.8,"p":109.34,"txt":"ATR/20: 733","k":"g"},{"t":127.5,"p":109.34,"txt":"Вт.: 132","k":"g"},{"t":221.6,"p":109.34,"txt":"Маржа: 198 / 99","k":"b"},{"t":402.3,"p":109.34,"txt":"Ставка: 1.60","k":"b"}]},
 "mark":{"type":"text","font":"DejaVu Sans","fontWeight":"bold","fontSize":11,"align":"left","baseline":"middle"},
 "encoding":{"x":{"field":"t","type":"quantitative","scale":{"domain":[0,1547],"nice":false,"zero":false},"axis":null},
  "y":{"field":"p","type":"quantitative","scale":{"domain":[109.247,116.453],"nice":false,"zero":false},"axis":null},"text":{"field":"txt"},
  "color":{"field":"k","type":"nominal","scale":{"domain":["g","b"],"range":["#2e8b57","#1e90ff"]},"legend":null}}},
{"data":{"values":[{"t0":4.3,"t1":20.5,"y0":109.466,"y1":109.252}]},"mark":{"type":"rect","fill":"#f0f0f0","stroke":"#9a9a9a","strokeWidth":1},
 "encoding":{"x":{"field":"t0","type":"quantitative","scale":{"domain":[0,1547],"nice":false,"zero":false},"axis":null},"x2":{"field":"t1"},
  "y":{"field":"y0","type":"quantitative","scale":{"domain":[109.247,116.453],"nice":false,"zero":false},"axis":null},"y2":{"field":"y1"}}},
{"data":{"values":[{"t":12.4,"p":109.36,"txt":"?"}]},"mark":{"type":"text","color":"#000000","fontSize":10,"align":"center","baseline":"middle"},
 "encoding":{"x":{"field":"t","type":"quantitative","scale":{"domain":[0,1547],"nice":false,"zero":false},"axis":null},
  "y":{"field":"p","type":"quantitative","scale":{"domain":[109.247,116.453],"nice":false,"zero":false},"axis":null},"text":{"field":"txt"}}},
{"data":{"values":[{"t":1542,"p":109.35,"txt":"Вторник / 2017.12.19 - 07:50:16"}]},"mark":{"type":"text","color":"#000000","fontSize":13,"align":"right","baseline":"middle"},
 "encoding":{"x":{"field":"t","type":"quantitative","scale":{"domain":[0,1547],"nice":false,"zero":false},"axis":null},
  "y":{"field":"p","type":"quantitative","scale":{"domain":[109.247,116.453],"nice":false,"zero":false},"axis":null},"text":{"field":"txt"}}},
{"data":{"values":[{"t":6.3,"p":112.697,"txt":"0/4"}]},"mark":{"type":"text","color":"#f0804a","fontSize":11,"align":"left","baseline":"middle"},
 "encoding":{"x":{"field":"t","type":"quantitative","scale":{"domain":[0,1547],"nice":false,"zero":false},"axis":null},
  "y":{"field":"p","type":"quantitative","scale":{"domain":[109.247,116.453],"nice":false,"zero":false},"axis":null},"text":{"field":"txt"}}},
{"data":{"values":[{"t":1541,"p":112.704,"txt":"3"}]},"mark":{"type":"text","color":"#ff4a2a","fontSize":11,"align":"right","baseline":"middle"},
 "encoding":{"x":{"field":"t","type":"quantitative","scale":{"domain":[0,1547],"nice":false,"zero":false},"axis":null},
  "y":{"field":"p","type":"quantitative","scale":{"domain":[109.247,116.453],"nice":false,"zero":false},"axis":null},"text":{"field":"txt"}}},
{"data":{"values":[{"p":114.708,"k":"c"},{"p":110.842,"k":"c"},{"p":112.596,"k":"k"}]},"mark":{"type":"rule","strokeWidth":11},
 "encoding":{"x":{"datum":1548.7,"type":"quantitative","scale":{"domain":[0,1547],"nice":false,"zero":false},"axis":null},"x2":{"datum":1590.5},
  "y":{"field":"p","type":"quantitative","scale":{"domain":[109.247,116.453],"nice":false,"zero":false},"axis":null},
  "color":{"field":"k","type":"nominal","scale":{"domain":["c","k"],"range":["#008080","#000000"]},"legend":null}}},
{"data":{"values":[{"p":114.708,"txt":"114.708"},{"p":110.842,"txt":"110.842"},{"p":112.596,"txt":"112.596"}]},"mark":{"type":"text","color":"#ffffff","fontSize":9.5,"align":"left","baseline":"middle"},
 "encoding":{"x":{"datum":1551,"type":"quantitative","scale":{"domain":[0,1547],"nice":false,"zero":false},"axis":null},
  "y":{"field":"p","type":"quantitative","scale":{"domain":[109.247,116.453],"nice":false,"zero":false},"axis":null},"text":{"field":"txt"}}}
]
}
